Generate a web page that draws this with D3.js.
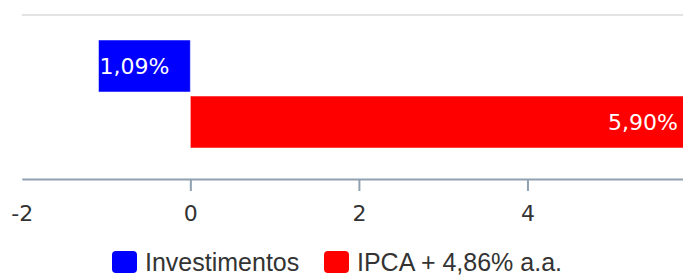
<!DOCTYPE html>
<html>
<head>
<meta charset="utf-8">
<script src="https://cdn.jsdelivr.net/npm/d3@7"></script>
<style>
  body { margin: 0; background: #fff; }
  svg { display: block; }
</style>
</head>
<body>
<svg id="chart" width="683" height="275"></svg>
<script>
// chart data
const seriesNames = ["Investimentos", "IPCA + 4,86% a.a."];
const seriesValues = [-1.09, 5.90];
const seriesLabels = ["1,09%", "5,90%"];
const seriesColors = ["#0000ff", "#ff0000"];
const tickValues = [-2, 0, 2, 4];

const width = 683, height = 275;
const plotTop = 15, plotBottom = 178;

const svg = d3.select("#chart");

const x = d3.scaleLinear().domain([-2, 6]).range([21.8, 696]);
const y = d3.scaleBand()
  .domain(seriesNames)
  .range([plotTop, plotBottom])
  .paddingInner(0.0714)
  .paddingOuter(0.491)
  .align(0.4545);

// top grid line
svg.append("line")
  .attr("x1", x(-2)).attr("x2", width)
  .attr("y1", plotTop).attr("y2", plotTop)
  .attr("stroke", "#e3e3e3")
  .attr("stroke-width", 2);

// bars
svg.selectAll("rect.bar")
  .data(seriesNames)
  .join("rect")
  .attr("class", "bar")
  .attr("x", (d, i) => x(Math.min(0, seriesValues[i])))
  .attr("y", d => y(d))
  .attr("width", (d, i) => Math.abs(x(seriesValues[i]) - x(0)))
  .attr("height", y.bandwidth())
  .attr("fill", (d, i) => seriesColors[i])
  .attr("stroke", "rgba(255,255,255,0.5)")
  .attr("stroke-width", 1);

// data labels
svg.selectAll("text.dl")
  .data(seriesNames)
  .join("text")
  .attr("class", "dl")
  .attr("x", (d, i) => seriesValues[i] < 0 ? x(seriesValues[i]) + 1 : Math.min(x(seriesValues[i]), width) - 5)
  .attr("y", d => y(d) + y.bandwidth() / 2)
  .attr("dy", "0.36em")
  .attr("text-anchor", (d, i) => seriesValues[i] < 0 ? "start" : "end")
  .style("font-family", "DejaVu Sans")
  .style("font-size", "22px")
  .style("fill", "#ffffff")
  .text((d, i) => seriesLabels[i]);

// x axis
const axis = svg.append("g")
  .attr("transform", `translate(0,${plotBottom + 1})`)
  .call(d3.axisBottom(x).tickValues(tickValues).tickFormat(d => String(d))
    .tickSize(12).tickPadding(14).tickSizeOuter(0));
axis.select(".domain").attr("stroke", "#8fa0b0").attr("stroke-width", 2);
axis.selectAll(".tick line").attr("stroke", "#8fa0b0").attr("stroke-width", 2).attr("y1", 1);
axis.selectAll(".tick")
  .filter(d => d === -2)
  .select("line").remove();
axis.selectAll(".tick text")
  .style("font-family", "DejaVu Sans")
  .style("font-size", "22px")
  .style("fill", "#333333");

// legend
const legendX = [112, 324];
const legend = svg.selectAll("g.legend")
  .data(seriesNames)
  .join("g")
  .attr("class", "legend")
  .attr("transform", (d, i) => `translate(${legendX[i]},251)`);
legend.append("rect")
  .attr("width", 25).attr("height", 22)
  .attr("rx", 4)
  .attr("fill", (d, i) => seriesColors[i]);
legend.append("text")
  .attr("x", 33)
  .attr("y", 20)
  .style("font-family", "Liberation Sans")
  .style("font-size", "25px")
  .style("fill", "#333333")
  .text(d => d);
</script>
</body>
</html>
